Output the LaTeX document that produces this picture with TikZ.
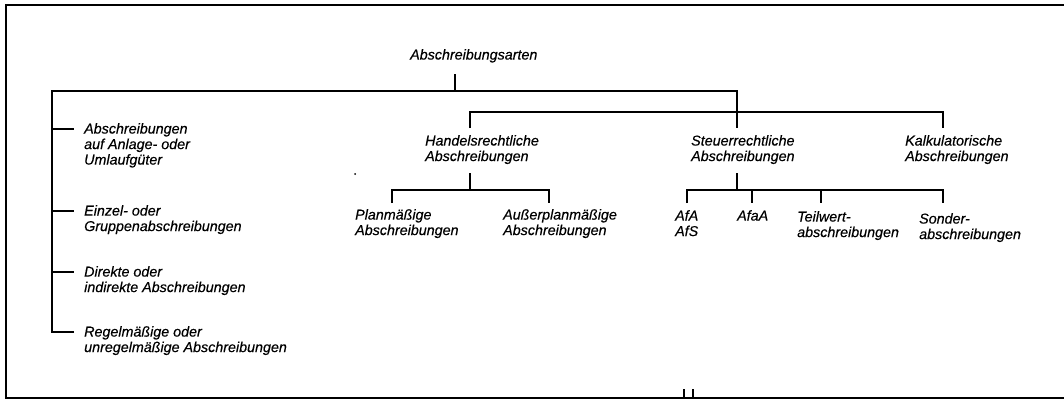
\documentclass[tikz,border=0pt]{standalone}
\usepackage{fontspec}
\setmainfont{Liberation Sans}
\newfontfamily\lblfont{Liberation Sans}[FakeBold=0.35]
\begin{document}
\begin{tikzpicture}[x=1pt,y=-1pt,
  lbl/.style={font=\lblfont\fontsize{14.3}{15.5}\selectfont\itshape, inner sep=0pt, align=left, anchor=north west},
  conn/.style={line width=1.6pt},
  frameline/.style={line width=2.2pt}]
\useasboundingbox (0,0) rectangle (1064,402);
% frame
\coordinate (fTR) at (1064,5);
\coordinate (fTL) at (6,5);
\coordinate (fBL) at (6,398);
\coordinate (fBR) at (1064,398);
\draw[frameline] (fTR) -- (fTL) -- (fBL) -- (fBR);
% texts
\node[lbl] (root) at (410,49) {Abschreibungsarten};
\node[lbl] (l1) at (84,123) {Abschreibungen\\auf Anlage- oder\\Umlaufgüter};
\node[lbl] (l2) at (84,205) {Einzel- oder\\Gruppenabschreibungen};
\node[lbl] (l3) at (84,266) {Direkte oder\\indirekte Abschreibungen};
\node[lbl] (l4) at (84,326) {Regelmäßige oder\\unregelmäßige Abschreibungen};
\node[lbl] (hand) at (425,135) {Handelsrechtliche\\Abschreibungen};
\node[lbl] (steu) at (691,135) {Steuerrechtliche\\Abschreibungen};
\node[lbl] (kalk) at (905,135) {Kalkulatorische\\Abschreibungen};
\node[lbl] (plan) at (355,209) {Planmäßige\\Abschreibungen};
\node[lbl] (ausp) at (503,209) {Außerplanmäßige\\Abschreibungen};
\node[lbl] (afa) at (675,210) {AfA\\AfS};
\node[lbl] (afaa) at (737,210) {AfaA};
\node[lbl] (teil) at (797,211) {Teilwert-\\abschreibungen};
\node[lbl] (sond) at (919,213) {Sonder-\\abschreibungen};
% junctions
\coordinate (r0) at (455,74);
\coordinate (r1) at (455,91);
\coordinate (mL) at (52,91);
\coordinate (mR) at (737,91);
\coordinate (s0) at (737,128);
\coordinate (b1) at (52,129); \coordinate (e1) at (74,129);
\coordinate (b2) at (52,211); \coordinate (e2) at (74,211);
\coordinate (b3) at (52,272); \coordinate (e3) at (74,272);
\coordinate (b4) at (52,332); \coordinate (e4) at (74,332);
\coordinate (h0) at (470,128); \coordinate (h1) at (470,112);
\coordinate (k1) at (943,112); \coordinate (k0) at (943,128);
\coordinate (hs0) at (470,173); \coordinate (hs1) at (470,190);
\coordinate (p1) at (392,190); \coordinate (p0) at (392,203);
\coordinate (a1) at (549,190); \coordinate (a0) at (549,203);
\coordinate (ss0) at (737,173); \coordinate (ss1) at (737,190);
\coordinate (q1) at (687,190); \coordinate (q0) at (687,203);
\coordinate (w1) at (752,190); \coordinate (w0) at (752,203);
\coordinate (t1) at (821,190); \coordinate (t0) at (821,203);
\coordinate (o1) at (943,190); \coordinate (o0) at (943,203);
% connectors
\draw[conn] (r0) -- (r1);
\draw[conn] (e4) -- (b4) -- (mL) -- (mR) -- (s0);
\draw[conn] (b1) -- (e1);
\draw[conn] (b2) -- (e2);
\draw[conn] (b3) -- (e3);
\draw[conn] (h0) -- (h1) -- (k1) -- (k0);
\draw[conn] (hs0) -- (hs1);
\draw[conn] (p0) -- (p1) -- (a1) -- (a0);
\draw[conn] (ss0) -- (ss1);
\draw[conn] (q0) -- (q1) -- (o1) -- (o0);
\draw[conn] (w1) -- (w0);
\draw[conn] (t1) -- (t0);
% small marks
\coordinate (m1a) at (684,389); \coordinate (m1b) at (684,398);
\coordinate (m2a) at (693,389); \coordinate (m2b) at (693,398);
\draw[line width=1.8pt] (m1a) -- (m1b);
\draw[line width=1.8pt] (m2a) -- (m2b);
\fill (355,174) circle (1pt);
\end{tikzpicture}
\end{document}
